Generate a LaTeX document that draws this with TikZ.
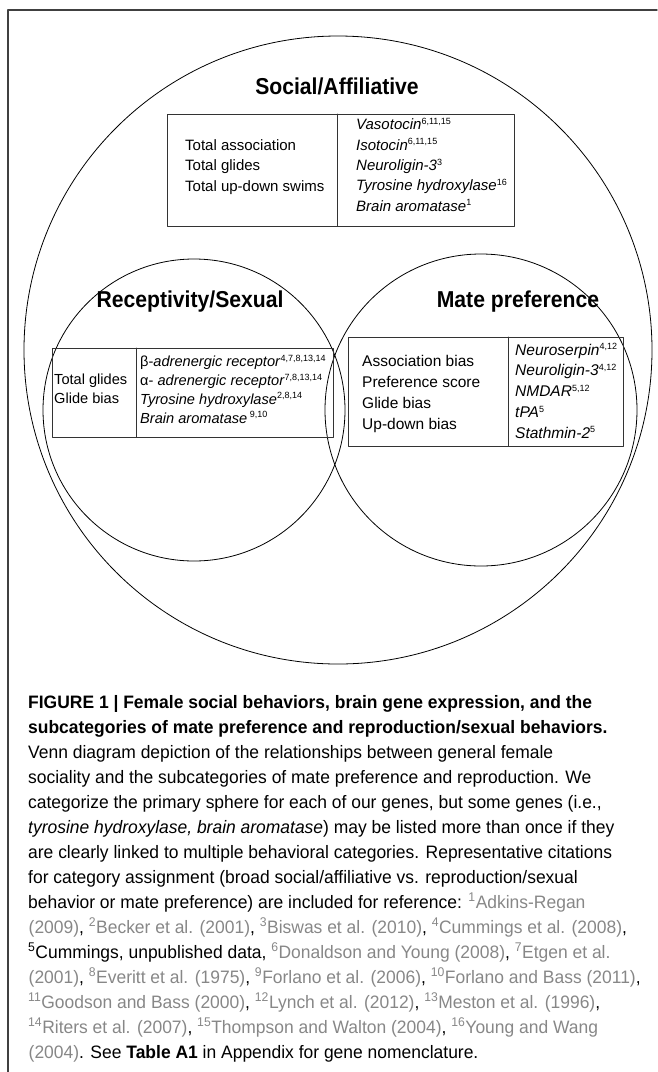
\documentclass[tikz,border=0pt]{standalone}
\usepackage{fontspec}
\setmainfont{Liberation Sans}
\newfontfamily\condfont[FakeStretch=0.92]{Liberation Sans}
\newfontfamily\capfont[FakeStretch=0.97]{Liberation Sans}
\usetikzlibrary{positioning}
\definecolor{refgray}{RGB}{135,135,135}
\newcommand{\rf}[2]{{\color{refgray}\textsuperscript{#1}#2}}
\newcommand{\gsup}[1]{\textsuperscript{\fontsize{9}{9}\selectfont #1}}
\begin{document}
\begin{tikzpicture}[x=1pt, y=-1pt, line join=round, line cap=round,
	venn/.style={draw=black, line width=0.8pt},
	genebox/.style={draw=black!80, line width=0.9pt},
	headtxt/.style={font=\condfont\bfseries\fontsize{23}{23}\selectfont, inner sep=0pt},
	boxtxt/.style={align=left, anchor=base west, inner sep=0pt},
	captxt/.style={align=left, anchor=base west, inner sep=0pt,
		font=\capfont\fontsize{18}{25}\selectfont}]
	\useasboundingbox (0,0) rectangle (657,1072);
	% frame
	\draw[line width=1.4pt, black!75] (657,10) -- (8,10) -- (8,1072);
	% venn circles
	\draw[venn] (338,350) circle (314);
	\draw[venn] (194,410) circle (151);
	\draw[venn] (481,410) circle (156);
	% headings
	\node[headtxt] (social) at (337,86) {Social/Affiliative};
	\node[headtxt] (sexual) at (190,302) {Receptivity/Sexual};
	\node[headtxt] (mate) at (518,302) {Mate preference};
	% social box (anchored on last line)
	\draw[genebox] (167,114) rectangle (514,226);
	\draw[genebox] (337,114) -- (337,226);
	\node[boxtxt, font=\fontsize{15}{20.3}\selectfont] (socbeh) at (185,191)
		{Total association\\Total glides\\Total up-down swims};
	\node[boxtxt, font=\fontsize{15}{20.3}\selectfont] (socgen) at (356,211)
		{\textit{Vasotocin}\gsup{6,11,15}\\
		 \textit{Isotocin}\gsup{6,11,15}\\
		 \textit{Neuroligin-3}\gsup{3}\\
		 \textit{Tyrosine hydroxylase}\gsup{16}\\
		 \textit{Brain aromatase}\gsup{1}};
	% receptivity box
	\draw[genebox] (52,348) rectangle (333,437);
	\draw[genebox] (136,348) -- (136,437);
	\node[boxtxt, font=\fontsize{14.6}{18.8}\selectfont] (sexbeh) at (54,403)
		{Total glides\\Glide bias};
	\node[boxtxt, font=\fontsize{14.6}{18.8}\selectfont] (sexgen) at (140,423)
		{β-\textit{adrenergic receptor}\gsup{4,7,8,13,14}\\
		 α- \textit{adrenergic receptor}\gsup{7,8,13,14}\\
		 \textit{Tyrosine hydroxylase}\gsup{2,8,14}\\
		 \textit{Brain aromatase}\,\gsup{9,10}};
	% mate preference box
	\draw[genebox] (348,337) rectangle (623,446);
	\draw[genebox] (508,337) -- (508,446);
	\node[boxtxt, font=\fontsize{15.5}{20.7}\selectfont] (matebeh) at (362,429)
		{Association bias\\Preference score\\Glide bias\\Up-down bias};
	\node[boxtxt, font=\fontsize{15.5}{20.7}\selectfont] (mategen) at (515,438)
		{\textit{Neuroserpin}\gsup{4,12}\\
		 \textit{Neuroligin-3}\gsup{4,12}\\
		 \textit{NMDAR}\gsup{5,12}\\
		 \textit{tPA}\gsup{5}\\
		 \textit{Stathmin-2}\gsup{5}};
	% caption (anchored on last line)
	\node[captxt] (caption) at (28,1058)
		{{\bfseries FIGURE 1 | Female social behaviors, brain gene expression, and the}\\
		 {\bfseries subcategories of mate preference and reproduction/sexual behaviors.}\\
		 Venn diagram depiction of the relationships between general female\\
		 sociality and the subcategories of mate preference and reproduction. We\\
		 categorize the primary sphere for each of our genes, but some genes (i.e.,\\
		 \textit{tyrosine hydroxylase, brain aromatase}) may be listed more than once if they\\
		 are clearly linked to multiple behavioral categories. Representative citations\\
		 for category assignment (broad social/affiliative vs. reproduction/sexual\\
		 behavior or mate preference) are included for reference: \rf{1}{Adkins-Regan}\\
		 \rf{}{(2009)}, \rf{2}{Becker et al. (2001)}, \rf{3}{Biswas et al. (2010)}, \rf{4}{Cummings et al. (2008)},\\
		 \textsuperscript{5}Cummings, unpublished data, \rf{6}{Donaldson and Young (2008)}, \rf{7}{Etgen et al.}\\
		 \rf{}{(2001)}, \rf{8}{Everitt et al. (1975)}, \rf{9}{Forlano et al. (2006)}, \rf{10}{Forlano and Bass (2011)},\\
		 \rf{11}{Goodson and Bass (2000)}, \rf{12}{Lynch et al. (2012)}, \rf{13}{Meston et al. (1996)},\\
		 \rf{14}{Riters et al. (2007)}, \rf{15}{Thompson and Walton (2004)}, \rf{16}{Young and Wang}\\
		 \rf{}{(2004)}. See \textbf{Table A1} in Appendix for gene nomenclature.};
\end{tikzpicture}
\end{document}
